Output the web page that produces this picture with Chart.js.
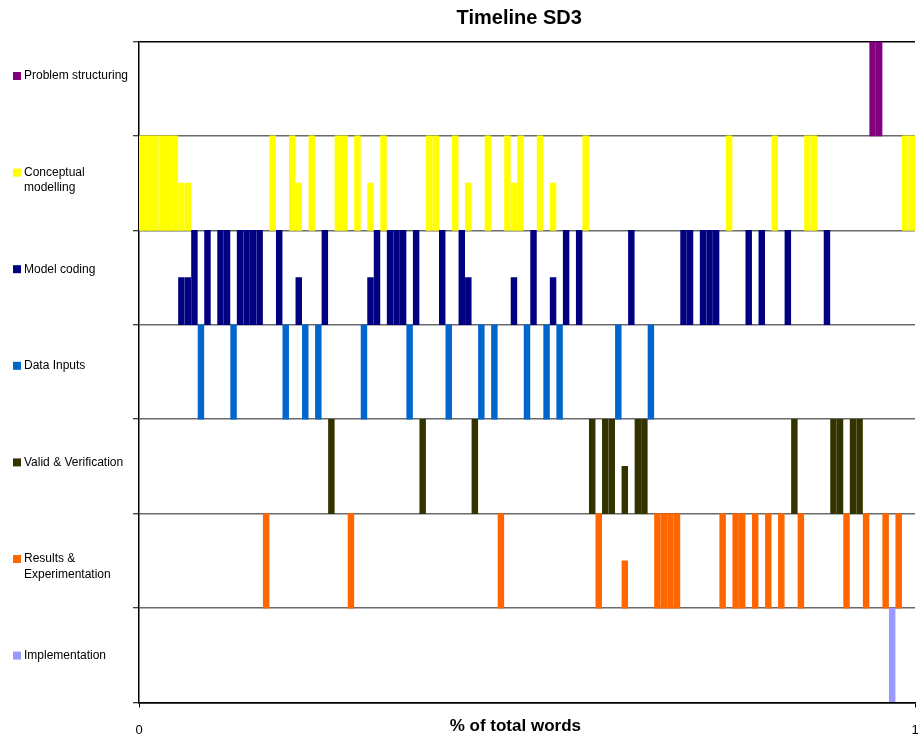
<!DOCTYPE html>
<html><head><meta charset="utf-8">
<script src="https://cdn.jsdelivr.net/npm/chart.js@4/dist/chart.umd.min.js"></script>
<style>html,body{margin:0;padding:0;background:#fff}</style>
</head><body>
<canvas id="c" width="920" height="742"></canvas>
<script>
// ---------- text ----------
const chartTitle = 'Timeline SD3';
const xAxisTitle = '% of total words';
const xTickLabels = ['0', '1'];

// ---------- categories (top row first) ----------
const categories = ['Problem structuring', 'Conceptual modelling', 'Model coding', 'Data Inputs',
  'Valid & Verification', 'Results & Experimentation', 'Implementation'];
const legendLines = [['Problem structuring'], ['Conceptual', 'modelling'], ['Model coding'], ['Data Inputs'],
  ['Valid & Verification'], ['Results &', 'Experimentation'], ['Implementation']];
const categoryColors = ['#800080', '#FFFF00', '#000080', '#0066CC', '#333300', '#FF6600', '#9999FF'];

// transcript is split into equal word blocks; each bar = one block
const blockCount = 119;

// block index of each bar, and bar height (1 = full, 0.5 = half) per category
const problemBlocks = [112, 113];
const problemVals   = [1, 1];

const conceptualBlocks = [0, 1, 2, 3, 4, 5, 6, 7, 20, 23, 24, 26, 30, 31, 33, 35, 37, 44, 45, 48, 50, 53, 56, 57, 58, 61, 63, 68, 90, 97, 102, 103, 117, 118];
const conceptualVals   = [1, 1, 1, 1, 1, 1, 0.5, 0.5, 1, 1, 0.5, 1, 1, 1, 1, 0.5, 1, 1, 1, 1, 0.5, 1, 1, 0.5, 1, 1, 0.5, 1, 1, 1, 1, 1, 1, 1];

const codingBlocks = [6, 7, 8, 10, 12, 13, 15, 16, 17, 18, 21, 24, 28, 35, 36, 38, 39, 40, 42, 46, 49, 50, 57, 60, 63, 65, 67, 75, 83, 84, 86, 87, 88, 93, 95, 99, 105];
const codingVals   = [0.5, 0.5, 1, 1, 1, 1, 1, 1, 1, 1, 1, 0.5, 1, 0.5, 1, 1, 1, 1, 1, 1, 1, 0.5, 0.5, 1, 0.5, 1, 1, 1, 1, 1, 1, 1, 1, 1, 1, 1, 1];

const dataBlocks = [9, 14, 22, 25, 27, 34, 41, 47, 52, 54, 59, 62, 64, 73, 78];
const dataVals   = [1, 1, 1, 1, 1, 1, 1, 1, 1, 1, 1, 1, 1, 1, 1];

const validBlocks = [29, 43, 51, 69, 71, 72, 74, 76, 77, 100, 106, 107, 109, 110];
const validVals   = [1, 1, 1, 1, 1, 1, 0.5, 1, 1, 1, 1, 1, 1, 1];

const resultsBlocks = [19, 32, 55, 70, 74, 79, 80, 81, 82, 89, 91, 92, 94, 96, 98, 101, 108, 111, 114, 116];
const resultsVals   = [1, 1, 1, 1, 0.5, 1, 1, 1, 1, 1, 1, 1, 1, 1, 1, 1, 1, 1, 1, 1];

const implBlocks = [115];
const implVals   = [1];

const seriesBlocks = [problemBlocks, conceptualBlocks, codingBlocks, dataBlocks, validBlocks, resultsBlocks, implBlocks];
const seriesVals   = [problemVals, conceptualVals, codingVals, dataVals, validVals, resultsVals, implVals];

const rowCount = categories.length;
const datasets = categories.map((name, k) => {
  const base = rowCount - 1 - k;
  return {
    label: name,
    backgroundColor: categoryColors[k],
    borderWidth: 0,
    barThickness: 5.8,
    grouped: false,
    data: seriesBlocks[k].map((b, j) => ({ x: (b + 0.5) / blockCount, y: [base, base + seriesVals[k][j]] }))
  };
});

const FONT = '"Liberation Sans", Arial, sans-serif';

const textPlugin = {
  id: 'texts',
  afterDraw(chart) {
    const { ctx, chartArea: a } = chart;
    const w = a.right - a.left;
    ctx.save();
    ctx.fillStyle = '#000';
    ctx.textAlign = 'center';
    ctx.textBaseline = 'middle';
    ctx.font = 'bold 20px ' + FONT;
    ctx.fillText(chartTitle, a.left + w * 0.49, 18);
    ctx.font = 'bold 17px ' + FONT;
    ctx.fillText(xAxisTitle, a.left + w * 0.485, 726);
    // legend column on the left
    ctx.textAlign = 'left';
    ctx.font = '12px ' + FONT;
    const firstY = a.top + 34.5, step = 96.6, lineH = 15.5;
    legendLines.forEach((lines, i) => {
      const y = firstY + step * i;
      ctx.fillStyle = categoryColors[i];
      ctx.fillRect(13, y - 4, 8, 8);
      ctx.fillStyle = '#000';
      lines.forEach((t, li) => ctx.fillText(t, 24, y + li * lineH));
    });
    ctx.restore();
  }
};

new Chart(document.getElementById('c'), {
  type: 'bar',
  data: { datasets },
  options: {
    responsive: false,
    animation: false,
    devicePixelRatio: 1,
    layout: { padding: { left: 133, right: 5, top: 41.5, bottom: 0 } },
    plugins: { legend: { display: false }, tooltip: { enabled: false }, title: { display: false } },
    scales: {
      x: {
        type: 'linear', min: 0, max: 1, offset: false,
        grid: { display: true, drawOnChartArea: false, drawTicks: true, tickLength: 5, color: '#000', offset: false },
        border: { display: true, color: '#000', width: 1.5 },
        ticks: { stepSize: 1, padding: 15, color: '#000', maxRotation: 0, autoSkip: false,
                 font: { family: FONT, size: 13 },
                 callback: (v) => (xTickLabels[v] !== undefined ? xTickLabels[v] : '') },
        afterFit: (s) => { s.height = 39.5; s.paddingLeft = 0; s.paddingRight = 0; }
      },
      y: {
        type: 'linear', min: 0, max: 7,
        grid: {
          color: (c) => (c.tick && (c.tick.value === 0 || c.tick.value === 7)) ? '#000' : '#6a6a6a',
          lineWidth: 1.5, drawTicks: true, tickLength: 6, tickColor: '#000', tickWidth: 1
        },
        border: { display: true, color: '#000', width: 1.5 },
        ticks: { stepSize: 1, display: false },
        afterFit: (s) => { s.width = 6; s.paddingTop = 0; s.paddingBottom = 0; }
      }
    }
  },
  plugins: [textPlugin]
});
</script>
</body></html>
